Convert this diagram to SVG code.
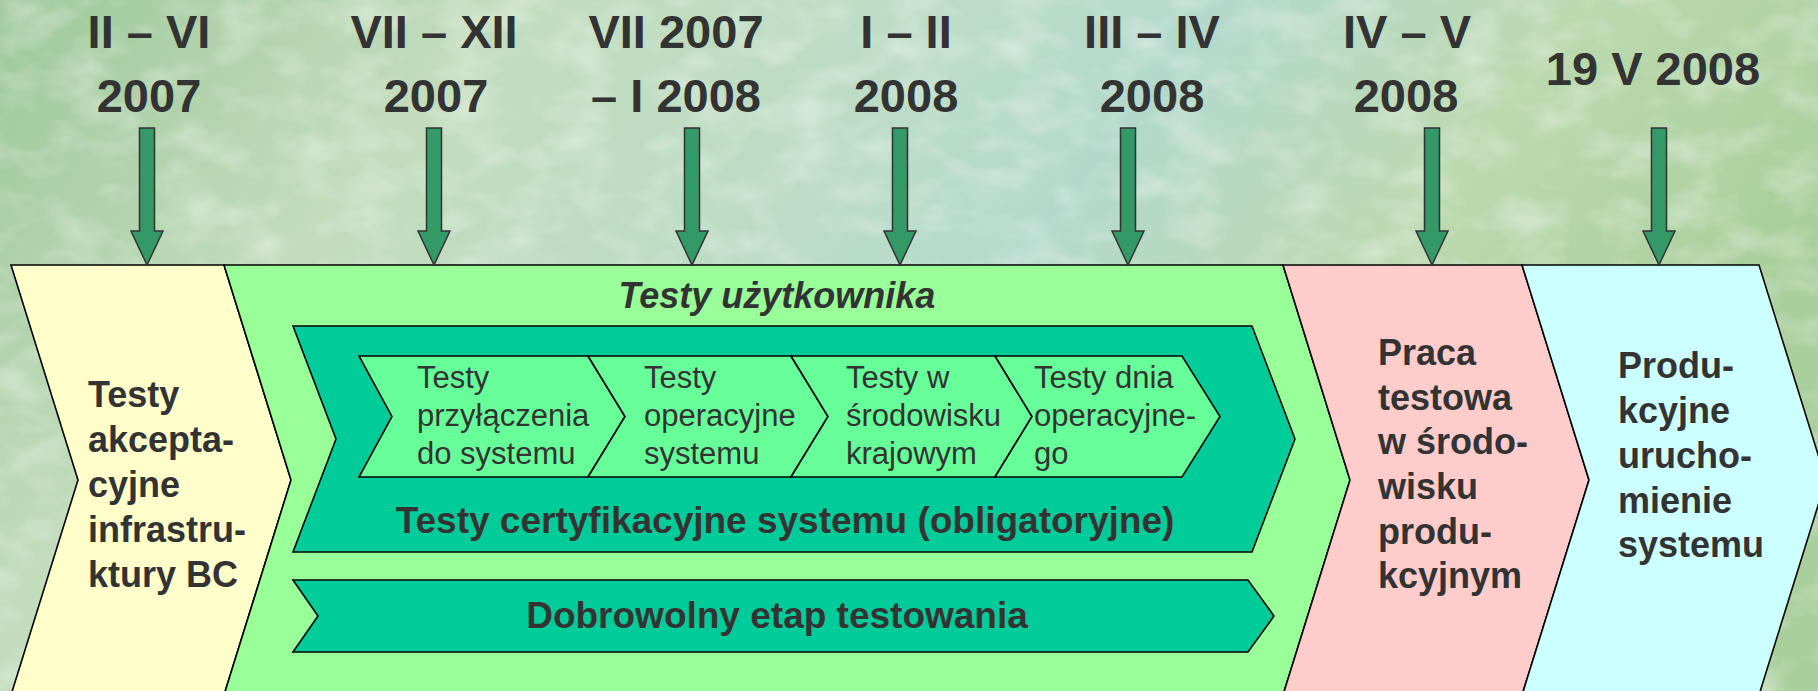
<svg xmlns="http://www.w3.org/2000/svg" width="1818" height="691" viewBox="0 0 1818 691">
<defs>
<linearGradient id="bg" x1="0" y1="0" x2="1" y2="0.3">
<stop offset="0" stop-color="#9ec89a"/>
<stop offset="0.25" stop-color="#c2dcbc"/>
<stop offset="0.5" stop-color="#bcdcc8"/>
<stop offset="0.62" stop-color="#b4d9cc"/>
<stop offset="0.8" stop-color="#bcd9b0"/>
<stop offset="1" stop-color="#a9cf9d"/>
</linearGradient>
<filter id="tex" x="0" y="0" width="100%" height="100%">
<feTurbulence type="fractalNoise" baseFrequency="0.018 0.03" numOctaves="3" seed="4" result="n"/>
<feColorMatrix type="matrix" values="0 0 0 0 1  0 0 0 0 1  0 0 0 0 1  0 0 0 -2.2 1.25" in="n"/>
</filter>
<style>
.lbl{font-family:"Liberation Sans",Arial,sans-serif;font-weight:bold;font-size:47px;fill:#333333;text-anchor:middle}
.big{font-family:"Liberation Sans",Arial,sans-serif;font-weight:bold;font-size:36px;fill:#333333}
.sm{font-family:"Liberation Sans",Arial,sans-serif;font-size:31px;fill:#333333}
.arr{fill:#339966;stroke:#333333;stroke-width:1.5}
.edge{stroke:#000000;stroke-width:1.6;stroke-linejoin:miter}
</style>
</defs>
<rect x="0" y="0" width="1818" height="691" fill="url(#bg)"/>
<rect x="0" y="0" width="1818" height="691" filter="url(#tex)" opacity="0.35"/>

<g id="labels">
<text class="lbl" x="149" y="48">II – VI</text>
<text class="lbl" x="149" y="112">2007</text>
<text class="lbl" x="434" y="48">VII – XII</text>
<text class="lbl" x="436" y="112">2007</text>
<text class="lbl" x="676" y="48">VII 2007</text>
<text class="lbl" x="676" y="112">– I 2008</text>
<text class="lbl" x="906" y="48">I – II</text>
<text class="lbl" x="906" y="112">2008</text>
<text class="lbl" x="1152" y="48">III – IV</text>
<text class="lbl" x="1152" y="112">2008</text>
<text class="lbl" x="1407" y="48">IV – V</text>
<text class="lbl" x="1406" y="112">2008</text>
<text class="lbl" x="1653" y="85">19 V 2008</text>
</g>

<g id="stage-akceptacyjne">
<polygon class="edge" fill="#FFFFCC" points="11,265 224,265 291,480 224,695 11,695 78,480"/>
<text class="big" x="88"><tspan x="88" y="407">Testy</tspan><tspan x="88" y="452">akcepta-</tspan><tspan x="88" y="497">cyjne</tspan><tspan x="88" y="542">infrastru-</tspan><tspan x="88" y="587">ktury BC</tspan></text>
</g>

<g id="stage-uzytkownika">
<polygon class="edge" fill="#99FF99" points="224,265 1283,265 1350,480 1283,695 224,695 291,480"/>
<text class="big" x="777" y="308" font-style="italic" text-anchor="middle">Testy użytkownika</text>
</g>

<g id="certyfikacyjne">
<polygon class="edge" fill="#00CC99" points="293,326 1252,326 1295,439 1252,552 293,552 336,439"/>
<text class="big" x="785" y="533" font-size="37" text-anchor="middle" style="font-size:37px">Testy certyfikacyjne systemu (obligatoryjne)</text>
</g>

<g id="przylaczenia">
<polygon class="edge" fill="#66FF99" points="359,356 588,356 625,416.5 588,477 359,477 392,416.5"/>
<text class="sm"><tspan x="417" y="388">Testy</tspan><tspan x="417" y="426">przyłączenia</tspan><tspan x="417" y="464">do systemu</tspan></text>
</g>

<g id="operacyjne">
<polygon class="edge" fill="#66FF99" points="588,356 791,356 828,416.5 791,477 588,477 625,416.5"/>
<text class="sm"><tspan x="644" y="388">Testy</tspan><tspan x="644" y="426">operacyjne</tspan><tspan x="644" y="464">systemu</tspan></text>
</g>

<g id="krajowym">
<polygon class="edge" fill="#66FF99" points="791,356 995,356 1032,416.5 995,477 791,477 828,416.5"/>
<text class="sm"><tspan x="846" y="388">Testy w</tspan><tspan x="846" y="426">środowisku</tspan><tspan x="846" y="464">krajowym</tspan></text>
</g>

<g id="dnia-operacyjnego">
<polygon class="edge" fill="#66FF99" points="995,356 1182,356 1220,416.5 1182,477 995,477 1032,416.5"/>
<text class="sm"><tspan x="1034" y="388">Testy dnia</tspan><tspan x="1034" y="426">operacyjne-</tspan><tspan x="1034" y="464">go</tspan></text>
</g>

<g id="dobrowolny">
<polygon class="edge" fill="#00CC99" points="293,580 1248,580 1274,616 1248,652 293,652 318,616"/>
<text class="big" x="777" y="628" text-anchor="middle" style="font-size:37px">Dobrowolny etap testowania</text>
</g>

<g id="stage-praca-testowa">
<polygon class="edge" fill="#FFCCCC" points="1283,265 1522,265 1589,480 1522,695 1283,695 1350,480"/>
<text class="big"><tspan x="1378" y="365">Praca</tspan><tspan x="1378" y="410">testowa</tspan><tspan x="1378" y="454">w środo-</tspan><tspan x="1378" y="499">wisku</tspan><tspan x="1378" y="544">produ-</tspan><tspan x="1378" y="588">kcyjnym</tspan></text>
</g>

<g id="stage-produkcyjne">
<polygon class="edge" fill="#CCFFFF" points="1522,265 1759,265 1826,480 1759,695 1522,695 1589,480"/>
<text class="big"><tspan x="1618" y="378">Produ-</tspan><tspan x="1618" y="423">kcyjne</tspan><tspan x="1618" y="468">urucho-</tspan><tspan x="1618" y="513">mienie</tspan><tspan x="1618" y="557">systemu</tspan></text>
</g>

<g id="connectors">
<polygon class="arr" points="139.5,128 154.5,128 154.5,231 163,231 147,265 131,231 139.5,231"/>
<polygon class="arr" points="426.5,128 441.5,128 441.5,231 450,231 434,265 418,231 426.5,231"/>
<polygon class="arr" points="684.5,128 699.5,128 699.5,231 708,231 692,265 676,231 684.5,231"/>
<polygon class="arr" points="892.5,128 907.5,128 907.5,231 916,231 900,265 884,231 892.5,231"/>
<polygon class="arr" points="1120.5,128 1135.5,128 1135.5,231 1144,231 1128,265 1112,231 1120.5,231"/>
<polygon class="arr" points="1424.5,128 1439.5,128 1439.5,231 1448,231 1432,265 1416,231 1424.5,231"/>
<polygon class="arr" points="1651.5,128 1666.5,128 1666.5,231 1675,231 1659,265 1643,231 1651.5,231"/>
</g>
</svg>
